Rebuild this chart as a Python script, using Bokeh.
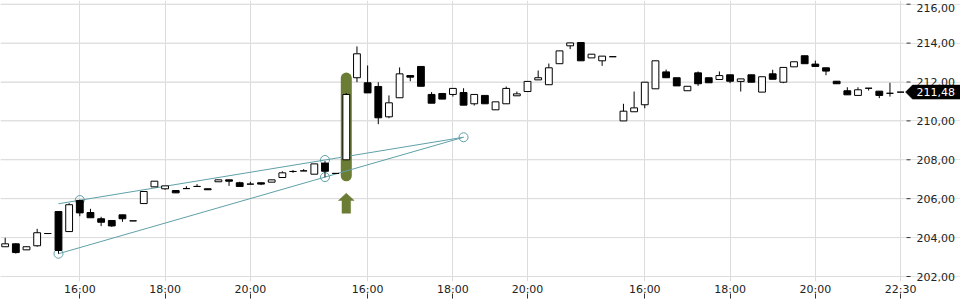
from bokeh.plotting import figure
from bokeh.models import FixedTicker, Range1d, ColumnDataSource
from bokeh.core.properties import value
from bokeh.embed import file_html
from bokeh.resources import INLINE

# ---------------- data ----------------
idx = list(range(85))
opens = [203.53, 203.68, 203.37, 203.58, 204.21, 205.34, 204.31, 205.91, 205.29, 204.97,
         204.88, 205.17, 204.86, 205.75, 206.61, 206.51, 206.42, 206.52, 206.63, 206.51,
         206.87, 206.97, 206.82, 206.75, 206.82, 206.85, 207.09, 207.40, 207.43, 207.26,
         207.83, 207.30, 208.00, 212.22, 211.96, 211.77, 210.21, 211.19, 212.33, 212.80,
         211.36, 211.41, 211.36, 211.46, 210.88, 211.31, 210.57, 210.88, 211.29, 211.51,
         212.11, 211.86, 212.94, 213.86, 214.03, 213.24, 213.09, 213.30, 210.00, 210.47,
         210.83, 211.65, 212.52, 212.22, 211.55, 212.47, 212.22, 212.13, 212.37, 212.03,
         212.37, 211.48, 212.42, 211.99, 212.78, 213.35, 212.92, 212.73, 212.04, 211.55,
         211.31, 211.68, 211.53, 211.42, 211.48]
highs = [203.99, 203.70, 203.53, 204.45, 204.21, 205.34, 205.77, 205.95, 205.48, 205.07,
         204.88, 205.17, 204.86, 206.37, 206.90, 206.66, 206.42, 206.64, 206.75, 206.51,
         206.97, 206.97, 206.87, 206.87, 206.82, 206.97, 207.41, 207.47, 207.52, 207.79,
         207.93, 207.30, 211.43, 213.83, 212.85, 211.99, 211.31, 212.75, 212.33, 212.80,
         211.48, 211.41, 211.67, 211.68, 211.36, 211.31, 210.98, 211.77, 211.51, 212.03,
         212.59, 212.95, 213.60, 214.01, 214.03, 213.43, 213.33, 213.30, 210.88, 211.51,
         211.99, 213.09, 212.64, 212.22, 211.78, 212.54, 212.22, 212.54, 212.37, 212.16,
         212.37, 212.27, 212.63, 212.75, 213.04, 213.35, 213.10, 212.73, 212.04, 211.73,
         211.73, 211.68, 211.53, 211.96, 211.48]
lows = [203.53, 203.18, 203.37, 203.53, 204.21, 203.17, 204.31, 205.10, 205.02, 204.59,
        204.55, 204.81, 204.86, 205.75, 206.61, 206.46, 206.30, 206.52, 206.63, 206.46,
        206.87, 206.66, 206.63, 206.75, 206.70, 206.85, 207.09, 207.33, 207.43, 207.26,
        207.10, 207.30, 208.00, 211.99, 211.44, 209.83, 210.14, 211.19, 212.04, 211.78,
        210.91, 211.12, 211.25, 210.81, 210.79, 210.88, 210.57, 210.88, 211.29, 211.51,
        212.11, 211.86, 212.94, 213.69, 213.09, 213.24, 212.83, 213.30, 210.00, 210.47,
        210.65, 211.65, 212.22, 211.80, 211.55, 211.80, 211.96, 212.13, 211.94, 211.51,
        211.99, 211.48, 212.14, 211.94, 212.78, 212.94, 212.80, 212.35, 211.91, 211.34,
        211.31, 211.56, 211.17, 211.25, 211.48]
closes = [203.68, 203.23, 203.53, 204.25, 204.21, 203.34, 205.69, 205.27, 205.02, 204.79,
          204.60, 204.97, 204.86, 206.37, 206.90, 206.66, 206.30, 206.52, 206.63, 206.46,
          206.97, 206.90, 206.63, 206.75, 206.75, 206.97, 207.33, 207.40, 207.43, 207.79,
          207.41, 207.30, 211.36, 213.45, 211.44, 210.16, 210.93, 212.42, 212.25, 211.78,
          210.91, 211.12, 211.67, 210.81, 211.36, 210.88, 210.98, 211.67, 211.39, 212.03,
          212.22, 212.73, 213.60, 214.01, 213.09, 213.43, 213.33, 213.30, 210.50, 210.67,
          211.99, 213.09, 212.22, 211.80, 211.78, 211.91, 211.96, 212.33, 212.04, 212.16,
          211.99, 212.27, 212.14, 212.75, 213.04, 212.94, 212.80, 212.56, 211.91, 211.34,
          211.60, 211.68, 211.31, 211.42, 211.48]

x_tick_pos = [7, 15, 23, 34, 42, 49, 60, 68, 76, 84]
x_tick_labels = ["16:00", "18:00", "20:00", "16:00", "18:00", "20:00",
                 "16:00", "18:00", "20:00", "22:30"]
y_ticks = [202, 204, 206, 208, 210, 212, 214, 216]
y_tick_labels = ["202,00", "204,00", "206,00", "208,00", "210,00", "212,00", "214,00", "216,00"]

upper_line_x = [5, 43]
upper_line_y = [205.74, 209.16]
lower_line_x = [5, 43]
lower_line_y = [203.17, 209.16]
anchor_x = [7, 30, 43, 5, 30]
anchor_y = [205.93, 207.99, 209.16, 203.17, 207.11]

signal_idx = 32
last_price = 211.48
last_price_label = "211,48"

# ---------------- layout ----------------
W, H = 960, 300
FRAME_H = 281
PLOT_W = 903                     # width of the price area; price scale sits to its right
PPX, PPY = 10.66, 19.45          # pixels per candle / per price unit
X0 = -0.439
Y0 = 201.743
X1 = X0 + W / PPX
Y1 = Y0 + FRAME_H / PPY


def px(sx):
    """screen x (pixels from left) -> index units"""
    return X0 + sx / PPX


GREEN = "#6b7d35"
TEAL = "#5fa0a8"
GRID = "#dcdcdc"
TXT = "#222222"
FONT = "DejaVu Sans"

p = figure(width=W, height=H, output_backend="svg", toolbar_location=None,
           x_range=Range1d(X0, X1), y_range=Range1d(Y0, Y1),
           y_axis_location=None,
           min_border_left=0, min_border_top=0, min_border_right=0, min_border_bottom=19)
p.outline_line_color = None
p.background_fill_color = "white"
p.border_fill_color = "white"

# vertical grid from the time axis
p.xgrid.ticker = FixedTicker(ticks=x_tick_pos)
p.xgrid.grid_line_color = GRID
p.xgrid.grid_line_width = 1

# x axis: labels just under frame, tick marks below labels
xa = p.xaxis[0]
xa.ticker = FixedTicker(ticks=x_tick_pos)
xa.major_label_overrides = {t: l for t, l in zip(x_tick_pos, x_tick_labels)}
xa.axis_line_color = None
xa.minor_tick_line_color = None
xa.major_tick_line_color = "#333333"
xa.major_tick_in = -12
xa.major_tick_out = 17
xa.major_label_standoff = -16
xa.major_label_text_font = FONT
xa.major_label_text_font_size = "11px"
xa.major_label_text_color = TXT

# price scale on the right (grid lines, tick dashes, labels)
n = len(y_ticks)
p.segment(x0=[X0] * n, y0=y_ticks, x1=[px(PLOT_W)] * n, y1=y_ticks,
          line_color=GRID, line_width=1)
p.segment(x0=[px(906)] * n, y0=y_ticks, x1=[px(910)] * n, y1=y_ticks,
          line_color="#333333", line_width=1)
# keep the topmost label inside the picture
label_y = [min(t, Y1 - 7 / PPY) for t in y_ticks]
p.text(x=[px(916)] * n, y=label_y, text=y_tick_labels, text_font=value(FONT),
       text_font_size="11px", text_color=TXT, text_baseline="middle", text_align="left")

# signal highlight (behind candles)
p.segment(x0=[signal_idx], y0=[highs[signal_idx] + 15 / PPY],
          x1=[signal_idx], y1=[lows[signal_idx] - 16 / PPY],
          line_color=GREEN, line_width=11, line_cap="round")

# trend lines
p.line(upper_line_x, upper_line_y, line_color=TEAL, line_width=1)
p.line(lower_line_x, lower_line_y, line_color=TEAL, line_width=1)
p.scatter(anchor_x, anchor_y, marker="circle", size=9, fill_color=None,
          line_color=TEAL, line_width=1)

# candles
tops = [max(o, c) for o, c in zip(opens, closes)]
bots = [min(o, c) for o, c in zip(opens, closes)]
fills = ["white" if c >= o else "black" for o, c in zip(opens, closes)]
src = ColumnDataSource(dict(x=idx, o=opens, h=highs, l=lows, c=closes,
                            top=tops, bot=bots, fill=fills))
p.segment(x0="x", y0="h", x1="x", y1="l", source=src, line_color="black", line_width=1)
p.vbar(x="x", width=0.64, top="top", bottom="bot", source=src,
       fill_color="fill", line_color="black", line_width=1)

# arrow under signal candle
sl = lows[signal_idx]
tip = sl - 33.4 / PPY
hb = tip - 7.3 / PPY
sb = hb - 12.7 / PPY
hh = 7.85 / PPX
sh = 4.3 / PPX
sx = signal_idx
p.patch([sx, sx + hh, sx + sh, sx + sh, sx - sh, sx - sh, sx - hh],
        [tip, hb, hb, sb, sb, hb, hb], fill_color=GREEN, line_color=GREEN, line_width=0.5)

# last price tag
th = 7 / PPY
p.patch([px(905), px(912), px(960), px(960), px(912)],
        [last_price, last_price + th, last_price + th, last_price - th, last_price - th],
        fill_color="black", line_color="black", line_width=0.5)
p.text(x=[px(916)], y=[last_price], text=[last_price_label], text_font=value(FONT),
       text_font_size="11px", text_color="white", text_baseline="middle", text_align="left")

open("out.html", "w").write(file_html(p, INLINE))
